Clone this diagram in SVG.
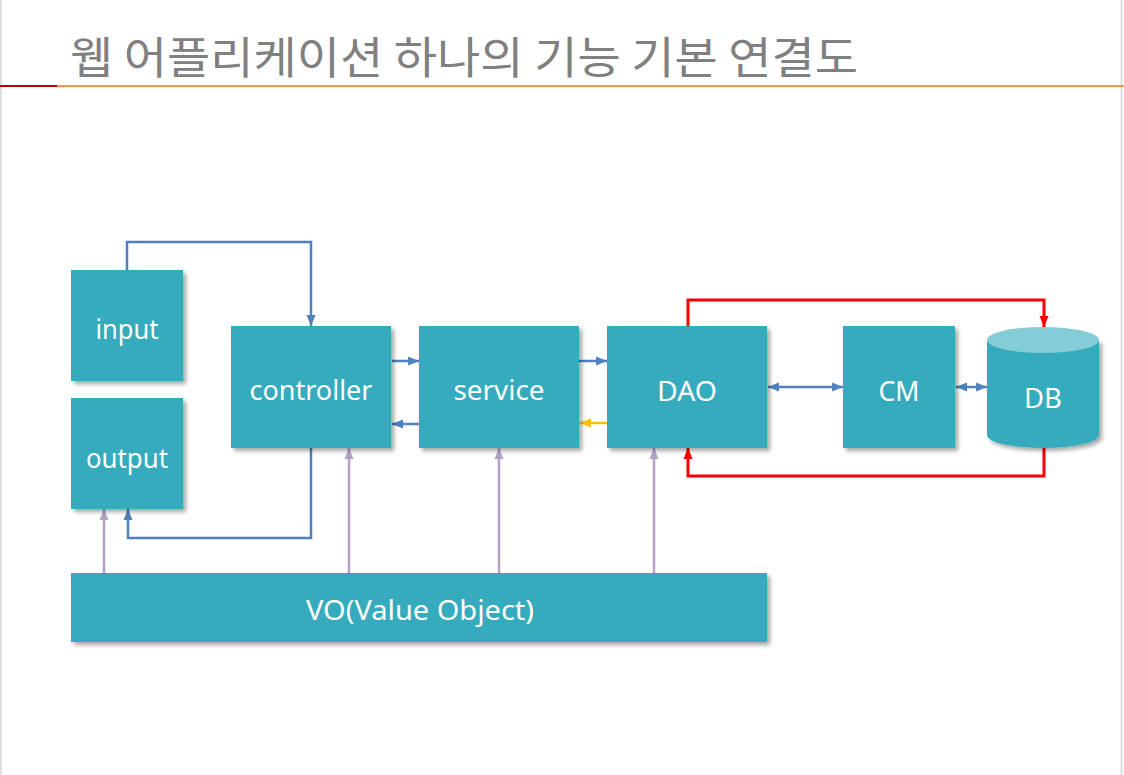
<svg xmlns="http://www.w3.org/2000/svg" width="1124" height="775" viewBox="0 0 1124 775">
<style>
.box{fill:#34abbd;filter:url(#sh)}
.lbl{fill:#ffffff;font-family:"Noto Sans","Liberation Sans",sans-serif;font-size:27px;text-anchor:middle}
.blue{fill:none;stroke:#4f81bd;stroke-width:2.5}
.red{fill:none;stroke:#ff0000;stroke-width:3}
.pur{fill:none;stroke:#b3a2c7;stroke-width:2.5}
.yel{fill:none;stroke:#ffc000;stroke-width:2.5}
</style>
<defs>
<filter id="sh" x="-10%" y="-10%" width="130%" height="130%">
<feDropShadow dx="3" dy="3" stdDeviation="2" flood-color="#000" flood-opacity="0.35"/>
</filter>
<marker id="ab" markerUnits="userSpaceOnUse" markerWidth="12" markerHeight="12" viewBox="0 0 12 12" refX="11" refY="6" orient="auto-start-reverse"><path d="M0,1.5 L11,6 L0,10.5 Z" fill="#4f81bd"/></marker>
<marker id="ar" markerUnits="userSpaceOnUse" markerWidth="12" markerHeight="12" viewBox="0 0 12 12" refX="11" refY="6" orient="auto"><path d="M0,1.5 L11,6 L0,10.5 Z" fill="#ff0000"/></marker>
<marker id="ap" markerUnits="userSpaceOnUse" markerWidth="12" markerHeight="12" viewBox="0 0 12 12" refX="11" refY="6" orient="auto"><path d="M0,1.5 L11,6 L0,10.5 Z" fill="#b3a2c7"/></marker>
<marker id="ay" markerUnits="userSpaceOnUse" markerWidth="12" markerHeight="12" viewBox="0 0 12 12" refX="11" refY="6" orient="auto"><path d="M0,1.5 L11,6 L0,10.5 Z" fill="#ffc000"/></marker>
</defs>
<rect x="0" y="0" width="1124" height="775" fill="#ffffff"/>
<line x1="1" y1="0" x2="1" y2="775" stroke="#d4d4d4" stroke-width="1.5"/>
<line x1="1121.5" y1="0" x2="1121.5" y2="775" stroke="#d4d4d4" stroke-width="1.5"/>
<g id="title">
<text x="70" y="74" font-family="'Noto Sans CJK KR','Noto Sans',sans-serif" font-size="44" fill="#808080" textLength="788" lengthAdjust="spacingAndGlyphs">웹 어플리케이션 하나의 기능 기본 연결도</text>
<line x1="0" y1="86" x2="57" y2="86" stroke="#c00000" stroke-width="2"/>
<line x1="57" y1="86" x2="1124" y2="86" stroke="#f79646" stroke-width="2"/>
</g>
<g id="connectors">
<path class="blue" d="M127,270 V242 H311 V326" marker-end="url(#ab)"/>
<path class="blue" d="M311,448 V538 H128 V509" marker-end="url(#ab)"/>
<path class="blue" d="M392,361 H419" marker-end="url(#ab)"/>
<path class="blue" d="M419,424 H392" marker-end="url(#ab)"/>
<path class="blue" d="M579,361 H607" marker-end="url(#ab)"/>
<path class="yel" d="M607,423 H580" marker-end="url(#ay)"/>
<path class="blue" d="M768,387 H843" marker-start="url(#ab)" marker-end="url(#ab)"/>
<path class="blue" d="M956,387 H987" marker-start="url(#ab)" marker-end="url(#ab)"/>
<path class="red" d="M688,326 V300 H1044 V327" marker-end="url(#ar)"/>
<path class="red" d="M1044,448 V476 H688 V448" marker-end="url(#ar)"/>
<path class="pur" d="M104,573 V509" marker-end="url(#ap)"/>
<path class="pur" d="M349,573 V448" marker-end="url(#ap)"/>
<path class="pur" d="M499,573 V448" marker-end="url(#ap)"/>
<path class="pur" d="M654,573 V448" marker-end="url(#ap)"/>
</g>
<g id="input"><rect class="box" x="71" y="270" width="112" height="111"/><text class="lbl" x="127" y="339" textLength="63" lengthAdjust="spacingAndGlyphs">input</text></g>
<g id="output"><rect class="box" x="71" y="398" width="112" height="111"/><text class="lbl" x="127" y="468" textLength="82" lengthAdjust="spacingAndGlyphs">output</text></g>
<g id="controller"><rect class="box" x="231" y="326" width="160" height="122"/><text class="lbl" x="311" y="400" textLength="123" lengthAdjust="spacingAndGlyphs">controller</text></g>
<g id="service"><rect class="box" x="419" y="326" width="160" height="122"/><text class="lbl" x="499" y="400" textLength="91" lengthAdjust="spacingAndGlyphs">service</text></g>
<g id="dao"><rect class="box" x="607" y="326" width="160" height="122"/><text class="lbl" x="687" y="401" textLength="60" lengthAdjust="spacingAndGlyphs">DAO</text></g>
<g id="cm"><rect class="box" x="843" y="326" width="112" height="122"/><text class="lbl" x="899" y="401" textLength="41" lengthAdjust="spacingAndGlyphs">CM</text></g>
<g id="db">
<path d="M987,340 V435 A56,13 0 0 0 1099,435 V340 Z" fill="#34abbd" filter="url(#sh)"/>
<ellipse cx="1043" cy="340" rx="56" ry="13" fill="#84ccd6"/>
<text class="lbl" x="1043" y="408" textLength="38" lengthAdjust="spacingAndGlyphs">DB</text>
</g>
<g id="vo"><rect class="box" x="71" y="573" width="696" height="69"/><text class="lbl" x="420" y="620" textLength="228" lengthAdjust="spacingAndGlyphs">VO(Value Object)</text></g>
</svg>
